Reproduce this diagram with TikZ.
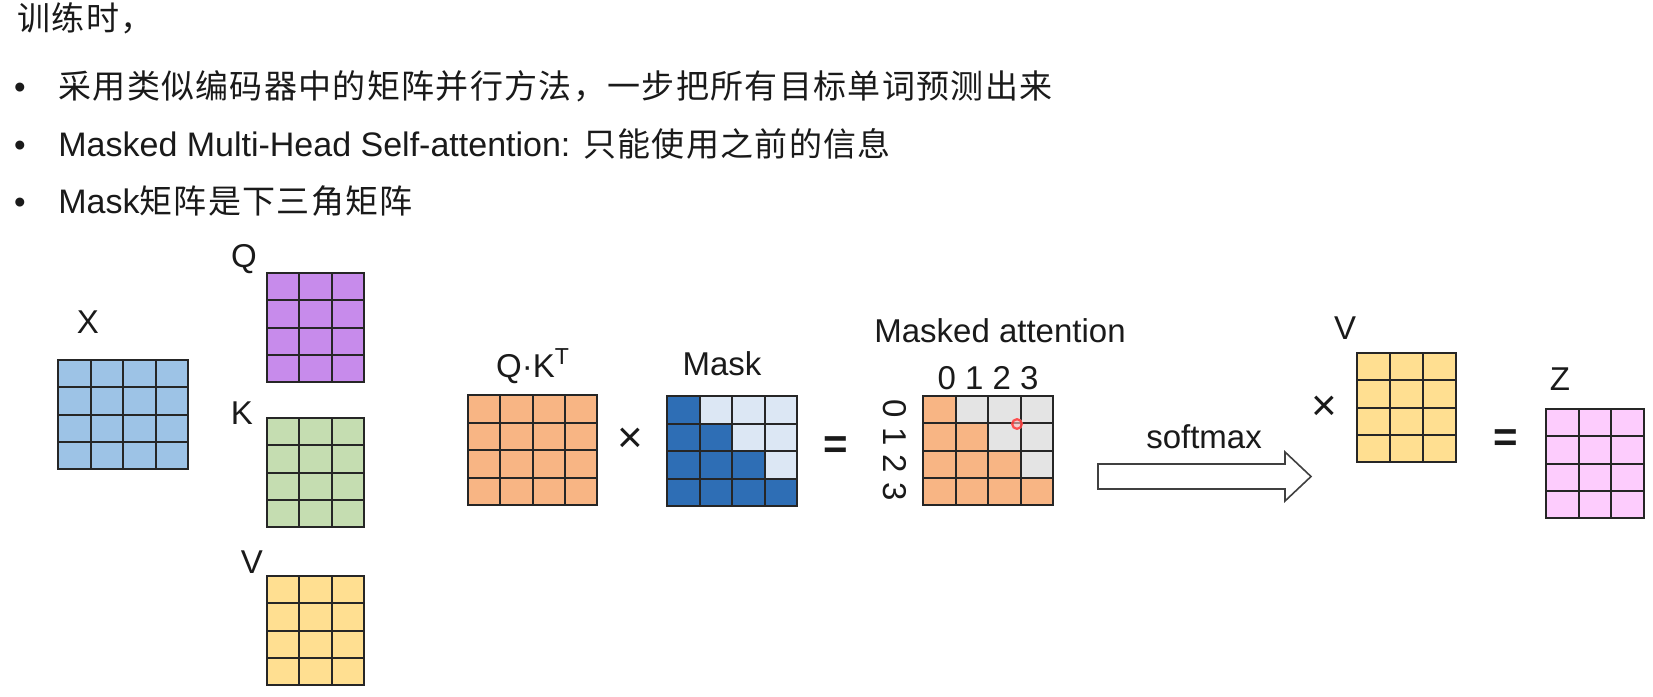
\documentclass[tikz,border=0pt]{standalone}
\usepackage{fontspec}
\setmainfont{Liberation Sans}
\newfontfamily\cjk[LetterSpace=4]{Noto Sans CJK SC}
\usetikzlibrary{fit}
\definecolor{gridline}{HTML}{262626}
\definecolor{xcol}{HTML}{9DC3E6}
\definecolor{qcol}{HTML}{C78BEB}
\definecolor{kcol}{HTML}{C5DDB1}
\definecolor{vcol}{HTML}{FFDF91}
\definecolor{ocol}{HTML}{F8B584}
\definecolor{mdark}{HTML}{2E6EB5}
\definecolor{mlight}{HTML}{DCE7F4}
\definecolor{gcol}{HTML}{E4E4E4}
\definecolor{zcol}{HTML}{FDCCFD}
\definecolor{txtcol}{HTML}{1A1A1A}
\definecolor{arrcol}{HTML}{404040}
\tikzset{
  cellline/.style={draw=gridline, line width=1pt},
  lbl/.style={font=\fontsize{16.5}{20}\selectfont, inner sep=0pt, text=txtcol},
  txt/.style={font=\fontsize{17}{20}\selectfont, inner sep=0pt, anchor=base west, text=txtcol},
  bul/.style={font=\fontsize{16.5}{20}\selectfont, inner sep=0pt, anchor=base, text=txtcol},
  opsym/.style={font=\fontsize{22}{24}\selectfont, inner sep=0pt, text=txtcol},
  eqsym/.style={font=\bfseries\fontsize{21}{24}\selectfont, inner sep=0pt, text=txtcol},
  matfit/.style={inner sep=0pt},
  bigarrow/.style={draw=arrcol, line width=0.8pt, fill=white, line join=miter}
}
\newcommand\cjkt[1]{{\cjk\fontsize{16.5}{20}\selectfont #1}}
\newcommand\drawmat[7]{%
  \foreach \cc in {1,...,#5}{\foreach \rr in {1,...,#6}{
    \draw[cellline,fill=#7] ({#1+(\cc-1)*#3},{#2+(\rr-1)*#4}) rectangle ++(#3,#4);}}}
\newcommand\drawtri[6]{%
  \foreach \cc in {1,...,4}{\foreach \rr in {1,...,4}{
    \ifnum\cc>\rr\relax\def\fc{#6}\else\def\fc{#5}\fi
    \draw[cellline,fill=\fc] ({#1+(\cc-1)*#3},{#2+(\rr-1)*#4}) rectangle ++(#3,#4);}}}
\begin{document}
\begin{tikzpicture}[x=0.5pt,y=-0.5pt]
\useasboundingbox (0,0) rectangle (1653,696);
\fill[white] (0,0) rectangle (1653,696);

% text lines
\node[txt] (title) at (17,31) {\cjkt{训练时，}};
\node[bul] (b1) at (20,98) {•};
\node[txt] (t1) at (58,98) {\cjkt{采用类似编码器中的矩阵并行方法，一步把所有目标单词预测出来}};
\node[bul] (b2) at (20,156) {•};
\node[txt] (t2) at (58,156) {Masked Multi-Head Self-attention: \cjkt{只能使用之前的信息}};
\node[bul] (b3) at (20,213) {•};
\node[txt] (t3) at (58,213) {Mask\cjkt{矩阵是下三角矩阵}};

% X
\drawmat{58}{360}{32.5}{27.25}{4}{4}{xcol}
\node[matfit, fit={(58,360) (188,469)}] (X) {};
\node[lbl] (Xl) at (88,322) {X};
% Q
\drawmat{267}{273}{32.33}{27.25}{3}{4}{qcol}
\node[matfit, fit={(267,273) (364,382)}] (Q) {};
\node[lbl] (Ql) at (244,259) {Q};
% K
\drawmat{267}{418}{32.33}{27.25}{3}{4}{kcol}
\node[matfit, fit={(267,418) (364,527)}] (K) {};
\node[lbl] (Kl) at (242,413) {K};
% V
\drawmat{267}{576}{32.33}{27.25}{3}{4}{vcol}
\node[matfit, fit={(267,576) (364,685)}] (V) {};
\node[lbl] (Vl) at (252,562) {V};

% Q K^T
\drawmat{468}{395}{32.25}{27.5}{4}{4}{ocol}
\node[matfit, fit={(468,395) (597,505)}] (QK) {};
\node[lbl] (QKl) at (533,366) {Q·K\textsuperscript{T}};
\node[opsym] (times1) at (630,440) {×};

% Mask
\drawtri{667}{396}{32.5}{27.5}{mdark}{mlight}
\node[matfit, fit={(667,396) (797,506)}] (Mask) {};
\node[lbl] (Maskl) at (722,364) {Mask};
\node[eqsym] (eq1) at (836,448) {=};

% Masked attention
\drawtri{923}{396}{32.5}{27.25}{ocol}{gcol}
\node[matfit, fit={(923,396) (1053,505)}] (MA) {};
\node[lbl] (MAl) at (1000,331) {Masked attention};
\node[lbl] (cols) at (988,378) {0 1 2 3};
\node[lbl, rotate=-90] (rows) at (895,450) {0 1 2 3};
\fill[red!25, opacity=0.6] (1017,424) circle (3pt);
\draw[red!85, line width=1.1pt, opacity=0.75] (1017,424) circle (2.4pt);

% softmax arrow
\draw[bigarrow] (1098,464) -- (1285,464) -- (1285,452) -- (1311,476.5) -- (1285,501) -- (1285,489) -- (1098,489) -- cycle;
\node[lbl] (sm) at (1204,437) {softmax};

% V (second)
\node[opsym] (times2) at (1324,408) {×};
\drawmat{1357}{353}{33}{27.25}{3}{4}{vcol}
\node[matfit, fit={(1357,353) (1456,462)}] (V2) {};
\node[lbl] (V2l) at (1345,328) {V};
\node[eqsym] (eq2) at (1506,441) {=};

% Z
\drawmat{1546}{409}{32.67}{27.25}{3}{4}{zcol}
\node[matfit, fit={(1546,409) (1644,518)}] (Z) {};
\node[lbl] (Zl) at (1560,379) {Z};
\end{tikzpicture}
\end{document}
